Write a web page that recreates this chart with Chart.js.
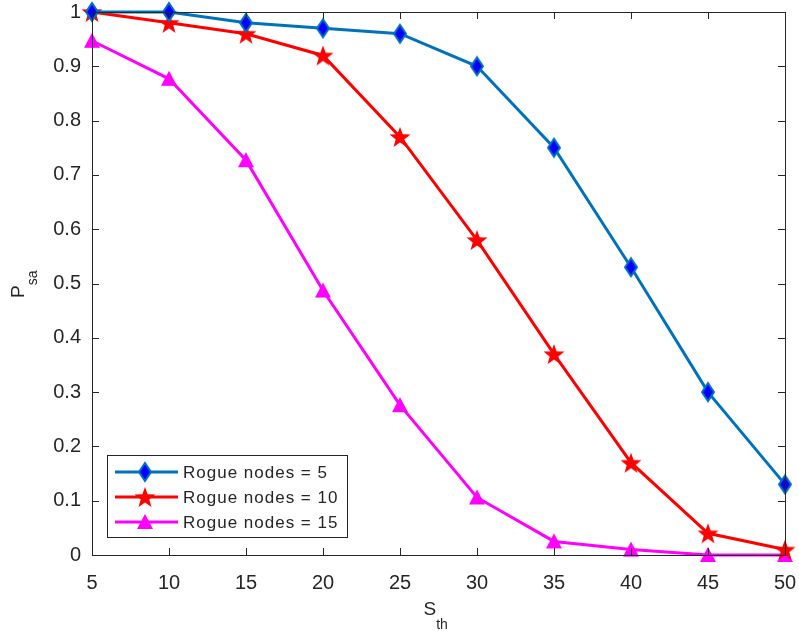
<!DOCTYPE html>
<html>
<head>
<meta charset="utf-8">
<script src="https://cdn.jsdelivr.net/npm/chart.js@4/dist/chart.umd.min.js"></script>
<style>
  html, body { margin: 0; padding: 0; background: #fff; }
  #wrap { width: 799px; height: 634px; }
</style>
</head>
<body>
<div id="wrap"><canvas id="chart" width="799" height="634"></canvas></div>
<script>
// Threshold values and detection probabilities
const thresholds = [5, 10, 15, 20, 25, 30, 35, 40, 45, 50];
const rogue5 = [1.0, 1.0, 0.98, 0.97, 0.96, 0.90, 0.75, 0.53, 0.30, 0.13];
const rogue10 = [1.0, 0.98, 0.96, 0.92, 0.77, 0.58, 0.37, 0.17, 0.04, 0.01];
const rogue15 = [0.947, 0.877, 0.727, 0.487, 0.276, 0.106, 0.025, 0.01, 0.0, 0.0];
const seriesNames = ['Rogue nodes = 5', 'Rogue nodes = 10', 'Rogue nodes = 15'];
const yTicks = [0, 0.1, 0.2, 0.3, 0.4, 0.5, 0.6, 0.7, 0.8, 0.9, 1];

const FONT = '"Liberation Sans", Arial, Helvetica, sans-serif';
const TEXT = '#262626';

// Marker sprites
function makeDiamond() {
    const c = document.createElement('canvas');
    c.width = 16; c.height = 22;
    const g = c.getContext('2d');
    g.beginPath();
    g.moveTo(8, 2); g.lineTo(14, 11); g.lineTo(8, 20); g.lineTo(2, 11); g.closePath();
    g.fillStyle = '#0000ff';
    g.fill();
    g.lineWidth = 2;
    g.strokeStyle = '#0072bd';
    g.stroke();
    return c;
}
function makeStar() {
    const c = document.createElement('canvas');
    c.width = 24; c.height = 24;
    const g = c.getContext('2d');
    g.beginPath();
    for (let i = 0; i < 10; i++) {
        const r = i % 2 === 0 ? 11 : 4.5;
        const a = -Math.PI / 2 + i * Math.PI / 5;
        const x = 12 + r * Math.cos(a), y = 13 + r * Math.sin(a);
        if (i === 0) g.moveTo(x, y); else g.lineTo(x, y);
    }
    g.closePath();
    g.fillStyle = '#ff0000';
    g.fill();
    return c;
}
function makeTriangle() {
    const c = document.createElement('canvas');
    c.width = 18; c.height = 18;
    const g = c.getContext('2d');
    g.beginPath();
    g.moveTo(9, 1); g.lineTo(17, 16); g.lineTo(1, 16); g.closePath();
    g.fillStyle = '#ff00ff';
    g.fill();
    return c;
}
const diamond = makeDiamond();
const star = makeStar();
const tri = makeTriangle();

// Box, inward ticks, axis titles with subscripts and legend
const frame = {
    id: 'frame',
    afterDraw(chart) {
        const { ctx, chartArea: a, scales: { x, y } } = chart;
        ctx.save();
        ctx.strokeStyle = '#262626';
        ctx.lineWidth = 1;
        ctx.strokeRect(a.left + 0.5, a.top + 0.5, a.right - a.left, a.bottom - a.top);
        ctx.beginPath();
        thresholds.forEach(v => {
            const px = Math.round(x.getPixelForValue(v)) + 0.5;
            ctx.moveTo(px, a.bottom); ctx.lineTo(px, a.bottom - 7);
            ctx.moveTo(px, a.top); ctx.lineTo(px, a.top + 7);
        });
        yTicks.forEach(v => {
            const py = Math.round(y.getPixelForValue(v)) + 0.5;
            ctx.moveTo(a.left, py); ctx.lineTo(a.left + 7, py);
            ctx.moveTo(a.right, py); ctx.lineTo(a.right - 7, py);
        });
        ctx.stroke();

        // axis titles
        ctx.fillStyle = TEXT;
        ctx.textBaseline = 'alphabetic';
        ctx.textAlign = 'left';
        ctx.font = '19px ' + FONT;
        const sw = ctx.measureText('S').width;
        const xc = (a.left + a.right) / 2;
        const sx = xc - 15;
        ctx.fillText('S', sx, 615);
        ctx.font = '14px ' + FONT;
        ctx.fillText('th', sx + sw, 629);

        ctx.save();
        ctx.translate(24, (a.top + a.bottom) / 2);
        ctx.rotate(-Math.PI / 2);
        ctx.font = '19px ' + FONT;
        const pw = ctx.measureText('P').width;
        ctx.fillText('P', -14.5, 0);
        ctx.font = '14px ' + FONT;
        ctx.fillText('sa', -14.5 + pw, 13);
        ctx.restore();

        // legend
        const lx = 107, ly = 455, lw = 240, lh = 82;
        ctx.fillStyle = '#fff';
        ctx.fillRect(lx, ly, lw, lh);
        ctx.strokeStyle = '#262626';
        ctx.lineWidth = 1;
        ctx.strokeRect(lx + 0.5, ly + 0.5, lw, lh);
        const rows = [472, 497, 522];
        const sprites = [diamond, star, tri];
        ctx.font = '17px ' + FONT;
        ctx.letterSpacing = '1px';
        ctx.textAlign = 'left';
        ctx.textBaseline = 'middle';
        chart.data.datasets.forEach((ds, i) => {
            const ry = rows[i];
            ctx.strokeStyle = ds.borderColor;
            ctx.lineWidth = 3;
            ctx.beginPath();
            ctx.moveTo(115, ry); ctx.lineTo(178, ry);
            ctx.stroke();
            const s = sprites[i];
            ctx.drawImage(s, 145 - s.width / 2, ry - s.height / 2);
            ctx.fillStyle = TEXT;
            ctx.fillText(seriesNames[i], 183, ry + 1);
        });
        ctx.restore();
    }
};

new Chart(document.getElementById('chart'), {
    type: 'line',
    data: {
        labels: thresholds,
        datasets: [
            { label: seriesNames[0], data: rogue5, borderColor: '#0072bd', pointStyle: diamond },
            { label: seriesNames[1], data: rogue10, borderColor: '#ff0000', pointStyle: star },
            { label: seriesNames[2], data: rogue15, borderColor: '#ff00ff', pointStyle: tri }
        ].map(d => Object.assign(d, { borderWidth: 3, tension: 0, fill: false, clip: false }))
    },
    options: {
        responsive: false,
        animation: false,
        layout: { padding: 0 },
        plugins: { legend: { display: false }, tooltip: { enabled: false } },
        scales: {
            x: {
                type: 'linear',
                min: 5, max: 50,
                afterFit(s) {
                    s.height = 79;
                    s.paddingLeft = 0;
                    s.paddingRight = 14;
                },
                afterBuildTicks(s) { s.ticks = thresholds.map(v => ({ value: v })); },
                grid: { display: false },
                border: { display: false },
                ticks: { color: TEXT, font: { family: FONT, size: 20 }, padding: 8, maxRotation: 0 }
            },
            y: {
                min: 0, max: 1,
                afterFit(s) {
                    s.width = 92;
                    s.paddingTop = 12;
                    s.paddingBottom = 0;
                },
                afterBuildTicks(s) { s.ticks = yTicks.map(v => ({ value: v })); },
                grid: { display: false },
                border: { display: false },
                ticks: { color: TEXT, font: { family: FONT, size: 20 }, padding: 3,
                    callback: v => String(v) }
            }
        }
    },
    plugins: [frame]
});
</script>
</body>
</html>
